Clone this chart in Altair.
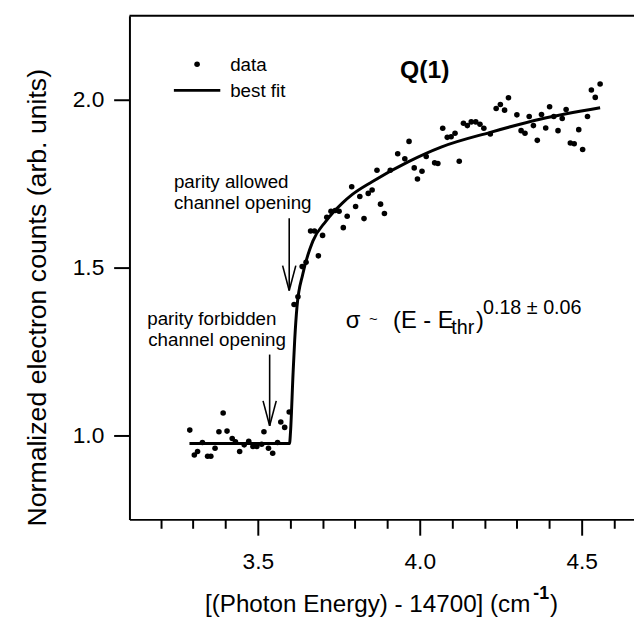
import altair as alt
import pandas as pd

# ---- data ----
x_data = [3.290, 3.304, 3.314, 3.329, 3.345, 3.355, 3.368, 3.380, 3.393, 3.405,
          3.421, 3.431, 3.444, 3.458, 3.472, 3.485, 3.497, 3.512, 3.519, 3.533,
          3.546, 3.561, 3.571, 3.583, 3.597,
          3.612, 3.624, 3.637, 3.649, 3.663, 3.675, 3.687, 3.700, 3.713, 3.726,
          3.739, 3.751, 3.764, 3.776, 3.790, 3.802, 3.815, 3.828, 3.841, 3.853,
          3.868, 3.879, 3.891, 3.909, 3.932, 3.954, 3.967, 3.983, 3.993, 4.007,
          4.020, 4.046, 4.056, 4.071, 4.085, 4.097, 4.109, 4.122, 4.135, 4.147,
          4.159, 4.173, 4.186, 4.198, 4.218, 4.236, 4.249, 4.262, 4.274, 4.300,
          4.313, 4.325, 4.338, 4.351, 4.363, 4.376, 4.389, 4.401, 4.414, 4.427,
          4.440, 4.452, 4.465, 4.477, 4.491, 4.503, 4.518, 4.530, 4.542, 4.557]
y_data = [1.016, 0.942, 0.952, 0.979, 0.938, 0.938, 0.962, 1.011, 1.067, 1.013,
          0.991, 0.981, 0.952, 0.972, 0.983, 0.967, 0.967, 0.974, 1.011, 0.962,
          0.947, 0.979, 1.040, 1.024, 1.070,
          1.390, 1.413, 1.503, 1.516, 1.609, 1.609, 1.535, 1.596, 1.650, 1.668,
          1.670, 1.668, 1.619, 1.653, 1.741, 1.682, 1.712, 1.646, 1.721, 1.731,
          1.790, 1.689, 1.661, 1.790, 1.839, 1.824, 1.876, 1.797, 1.764, 1.787,
          1.831, 1.812, 1.810, 1.915, 1.888, 1.890, 1.900, 1.817, 1.930, 1.923,
          1.934, 1.934, 1.927, 1.915, 1.898, 1.974, 1.986, 1.969, 2.006, 1.955,
          1.908, 1.900, 1.950, 1.923, 1.879, 1.956, 1.916, 1.979, 1.950, 1.908,
          1.944, 1.971, 1.871, 1.869, 1.911, 1.852, 1.950, 2.029, 2.007, 2.047]

fit_x = [3.289, 3.598, 3.601, 3.609, 3.614, 3.621, 3.639, 3.670, 3.710, 3.761,
         3.792, 3.853, 3.964, 4.066, 4.218, 4.371, 4.557]
fit_y = [0.976, 0.976, 1.010, 1.187, 1.285, 1.383, 1.481, 1.579, 1.638, 1.692,
         1.718, 1.756, 1.815, 1.859, 1.903, 1.942, 1.976]

x_ticks = [3.2, 3.3, 3.4, 3.5, 3.6, 3.7, 3.8, 3.9, 4.0, 4.1, 4.2, 4.3, 4.4, 4.5, 4.6]
y_ticks = [1.0, 1.5, 2.0]

# arrows (annotation geometry, data coordinates)
arrow_x = [3.597, 3.5366]
arrow_top = [1.647, 1.241]
arrow_tip = [1.432, 1.029]
arrow_head = [1.506, 1.103]

W, H = 511, 510
FONT = "Liberation Sans"

pts = pd.DataFrame({"x": x_data, "y": y_data})
fit = pd.DataFrame({"x": fit_x, "y": fit_y})

segs = []
for ax, at, ap, ah in zip(arrow_x, arrow_top, arrow_tip, arrow_head):
    segs.append({"x": ax, "x2": ax, "y": at, "y2": ap})
    segs.append({"x": ax - 0.0204, "x2": ax, "y": ah, "y2": ap})
    segs.append({"x": ax + 0.0204, "x2": ax, "y": ah, "y2": ap})
arrows = pd.DataFrame(segs)

xs = alt.Scale(domain=[3.1037, 4.6616], nice=False, zero=False)
ys = alt.Scale(domain=[0.75, 2.25], nice=False, zero=False)

major = "abs(datum.value*2 - round(datum.value*2)) < 0.001"
xaxis = alt.Axis(
    values=x_ticks, title=None, grid=False,
    labelExpr=f"{major} ? format(datum.value, '.1f') : ''",
    tickSize={"condition": {"test": major, "value": 16}, "value": 9},
    tickWidth=2, domainWidth=2, domainColor="black", tickColor="black",
    labelColor="black", labelFont=FONT, labelFontSize=23,
    labelBaseline="alphabetic", labelPadding=34, labelFlush=False,
)
yaxis = alt.Axis(
    values=y_ticks, format=".1f", grid=False,
    title="Normalized electron counts (arb. units)",
    titleFont=FONT, titleFontSize=27, titleFontWeight="normal", titleColor="black",
    titleX=-85, titleY=285, titleAngle=-90, titleBaseline="alphabetic", titleAlign="center",
    tickSize=16, tickWidth=2, domainWidth=2, domainColor="black", tickColor="black",
    labelColor="black", labelFont=FONT, labelFontSize=23, labelPadding=10,
)

X = alt.X("x:Q", scale=xs, axis=xaxis)
Y = alt.Y("y:Q", scale=ys, axis=yaxis)

points = alt.Chart(pts).mark_circle(size=32, color="black", opacity=1).encode(x=X, y=Y)
line = alt.Chart(fit).mark_line(color="black", strokeWidth=3, interpolate="monotone").encode(x=X, y=Y)
arrow_layer = alt.Chart(arrows).mark_rule(color="black", strokeWidth=1.6).encode(
    x=X, y=Y, x2="x2:Q", y2="y2:Q")

top_border = alt.Chart(pd.DataFrame({"a": [0]})).mark_rule(color="black", strokeWidth=2).encode(
    x=alt.value(0), x2=alt.value(W), y=alt.value(0))


def txt(text, x, y, size=19, align="left", baseline="alphabetic", weight="normal"):
    return alt.Chart(pd.DataFrame({"t": [text]})).mark_text(
        font=FONT, fontSize=size, align=align, baseline=baseline,
        fontWeight=weight, color="black").encode(
        text="t:N", x=alt.value(x), y=alt.value(y))


# legend
leg_dot = alt.Chart(pd.DataFrame({"a": [0]})).mark_circle(size=32, color="black", opacity=1).encode(
    x=alt.value(68.5), y=alt.value(49))
leg_line = alt.Chart(pd.DataFrame({"a": [0]})).mark_rule(color="black", strokeWidth=3).encode(
    x=alt.value(45), x2=alt.value(92), y=alt.value(75.5))

texts = [
    txt("data", 102, 55.5),
    txt("best fit", 102, 82),
    txt("Q(1)", 299, 55, size=25, align="center", baseline="middle", weight="bold"),
    txt("parity allowed", 45, 174),
    txt("channel opening", 45, 196),
    txt("parity forbidden", 18, 313),
    txt("channel opening", 19, 334.7),
    txt("σ", 219, 316, size=24),
    txt("~", 247, 312, size=15, align="center"),
    txt("(E - E", 267, 316, size=24),
    txt("thr", 326, 322, size=20),
    txt(")", 351, 316, size=24),
    txt("0.18 ± 0.06", 358, 302, size=20),
    # x-axis title with superscript
    txt("[(Photon Energy) - 14700] (cm", 406, H + 94, size=24.5, align="right"),
    txt("-1", 409, H + 81, size=18, weight="bold"),
    txt(")", 426, H + 94, size=24.5),
]

chart = alt.layer(points, line, arrow_layer, top_border, leg_dot, leg_line, *texts).properties(
    width=W, height=H,
    autosize=alt.AutoSizeParams(type="none"),
    padding={"left": 123, "top": 4, "right": 0, "bottom": 100},
    background="white",
).configure_view(stroke=None)

chart.save("out.html", embed_options={"renderer": "svg", "actions": False})
